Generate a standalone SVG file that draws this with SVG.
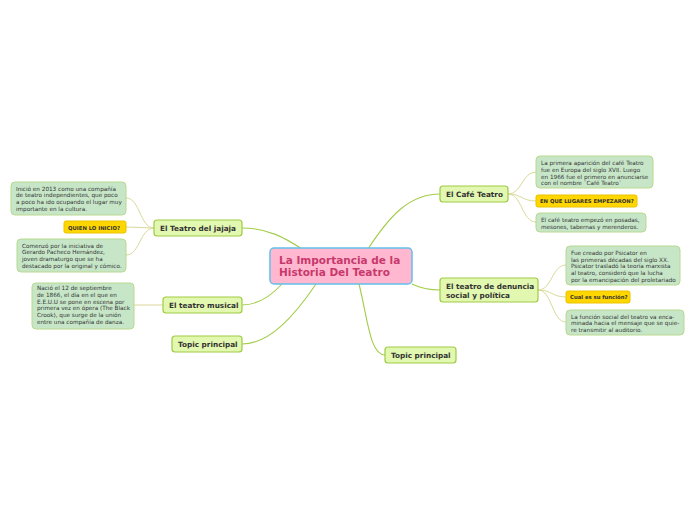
<svg xmlns="http://www.w3.org/2000/svg" width="696" height="520" viewBox="0 0 696 520">
<style>
.bg{fill:#ffffff}
.main rect{fill:#e2f7b0;stroke:#9fcb45;stroke-width:1.2}
.main text{font-family:"DejaVu Sans",Verdana,sans-serif;font-weight:bold;font-size:7.3px;fill:#333}
.note rect{fill:#c7e6c8;stroke:#b9d98e;stroke-width:1}
.note text{font-family:"DejaVu Sans",Verdana,sans-serif;font-size:5.7px;fill:#333}
.q rect{fill:#ffd600;stroke:#e9c300;stroke-width:1}
.q text{font-family:"DejaVu Sans",Verdana,sans-serif;font-weight:bold;font-size:5.3px;fill:#333}
.link{fill:none;stroke:#a3cc4a;stroke-width:1.1}
.sub{fill:none;stroke:#d9d99a;stroke-width:1}
</style>
<rect class="bg" width="696" height="520"/>
<g id="connectors">
<path class="link" d="M368,249 C390,215 410,194 440,194"/>
<path class="link" d="M302,249 C285,238 268,228 242,228"/>
<path class="link" d="M282,284 C270,297 258,305 242,305"/>
<path class="link" d="M316,284 C295,315 270,344 242,344"/>
<path class="link" d="M412,284 C420,288 430,290 440,290"/>
<path class="link" d="M359,284 C368,320 370,355 385,355"/>
<path class="sub" d="M508,194 C522,194 522,172 536,172"/>
<path class="sub" d="M508,194 C522,194 522,201 536,201"/>
<path class="sub" d="M508,194 C522,194 522,222 536,222"/>
<path class="sub" d="M538,290 C552,290 552,265 566,265"/>
<path class="sub" d="M538,290 C552,290 552,297 566,297"/>
<path class="sub" d="M538,290 C552,290 552,322 566,322"/>
<path class="sub" d="M154,228 C140,228 140,198 126,198"/>
<path class="sub" d="M154,228 L126,227"/>
<path class="sub" d="M154,228 C140,228 140,255 126,255"/>
<path class="sub" d="M163,305 L134,305"/>
</g>
<g id="central">
<rect x="270" y="248" width="142" height="36" rx="4" fill="#ffb8d0" stroke="#62c0ea" stroke-width="1.5"/>
<text x="279" y="264" font-family="'DejaVu Sans',Verdana,sans-serif" font-weight="bold" font-size="10.5" fill="#c8386c">La Importancia de la</text>
<text x="279" y="276" font-family="'DejaVu Sans',Verdana,sans-serif" font-weight="bold" font-size="10.5" fill="#c8386c">Historia Del Teatro</text>
</g>
<g id="cafe" class="main"><rect x="440" y="186" width="68" height="16" rx="3"/><text x="446" y="197">El Café Teatro</text></g>
<g id="jajaja" class="main"><rect x="154" y="220" width="88" height="16" rx="3"/><text x="160" y="231">El Teatro del jajaja</text></g>
<g id="musical" class="main"><rect x="163" y="297" width="79" height="16" rx="3"/><text x="169" y="308">El teatro musical</text></g>
<g id="topic-left" class="main"><rect x="172" y="336" width="70" height="16" rx="3"/><text x="178" y="347">Topic principal</text></g>
<g id="denuncia" class="main"><rect x="440" y="278" width="98" height="24" rx="3"/><text x="446" y="289">El teatro de denuncia</text><text x="446" y="298">social y política</text></g>
<g id="topic-right" class="main"><rect x="385" y="347" width="71" height="16" rx="3"/><text x="391" y="358">Topic principal</text></g>
<g id="cafe-note1" class="note"><rect x="536" y="156" width="117" height="32" rx="4"/>
<text x="541" y="165">La primera aparición del café Teatro</text>
<text x="541" y="171.8">fue en Europa del siglo XVII. Luego</text>
<text x="541" y="178.6">en 1966 fue el primero en anunciarse</text>
<text x="541" y="185.4">con el nombre ¨Café Teatro¨</text></g>
<g id="cafe-q" class="q"><rect x="536" y="195" width="101" height="12" rx="2"/><text x="540" y="203">EN QUE LUGARES EMPEZARON?</text></g>
<g id="cafe-note2" class="note"><rect x="536" y="213" width="110" height="19" rx="4"/>
<text x="541" y="222">El café teatro empezó en posadas,</text>
<text x="541" y="228.8">mesones, tabernas y merenderos.</text></g>
<g id="den-note1" class="note"><rect x="566" y="246" width="114" height="39" rx="4"/>
<text x="571" y="255">Fue creado por Psicator en</text>
<text x="571" y="261.7">las primeras décadas del siglo XX.</text>
<text x="571" y="268.4">Psicator trasladó la teoría marxista</text>
<text x="571" y="275.1">al teatro, consideró que la lucha</text>
<text x="571" y="281.8">por la emancipación del proletariado</text></g>
<g id="den-q" class="q"><rect x="566" y="291" width="64" height="12" rx="2"/><text x="570" y="299">Cual es su función?</text></g>
<g id="den-note2" class="note"><rect x="566" y="310" width="118" height="25" rx="4"/>
<text x="571" y="318.5">La función social del teatro va enca-</text>
<text x="571" y="325.2">minada hacia el mensaje que se quie-</text>
<text x="571" y="331.9">re transmitir al auditorio.</text></g>
<g id="jaj-note1" class="note"><rect x="11" y="182" width="115" height="33" rx="4"/>
<text x="16" y="190.5">Inició en 2013 como una compañía</text>
<text x="16" y="197.3">de teatro independientes, que poco</text>
<text x="16" y="204.1">a poco ha ido ocupando el lugar muy</text>
<text x="16" y="210.9">importante en la cultura.</text></g>
<g id="jaj-q" class="q"><rect x="64" y="221" width="62" height="12" rx="2"/><text x="68" y="229.5">QUIEN LO INICIO?</text></g>
<g id="jaj-note2" class="note"><rect x="17" y="239" width="109" height="33" rx="4"/>
<text x="22" y="247.5">Comenzó por la iniciativa de</text>
<text x="22" y="254.3">Gerardo Pacheco Hernández,</text>
<text x="22" y="261.1">joven dramaturgo que se ha</text>
<text x="22" y="267.9">destacado por la original y cómico.</text></g>
<g id="mus-note" class="note"><rect x="32" y="283" width="102" height="46" rx="4"/>
<text x="37" y="290">Nació el 12 de septiembre</text>
<text x="37" y="296.8">de 1866, el día en el que en</text>
<text x="37" y="303.6">E.E.U.U se pone en escena por</text>
<text x="37" y="310.4">primera vez en ópera (The Black</text>
<text x="37" y="317.2">Crook), que surge de la unión</text>
<text x="37" y="324">entre una compañía de danza.</text></g>
</svg>
